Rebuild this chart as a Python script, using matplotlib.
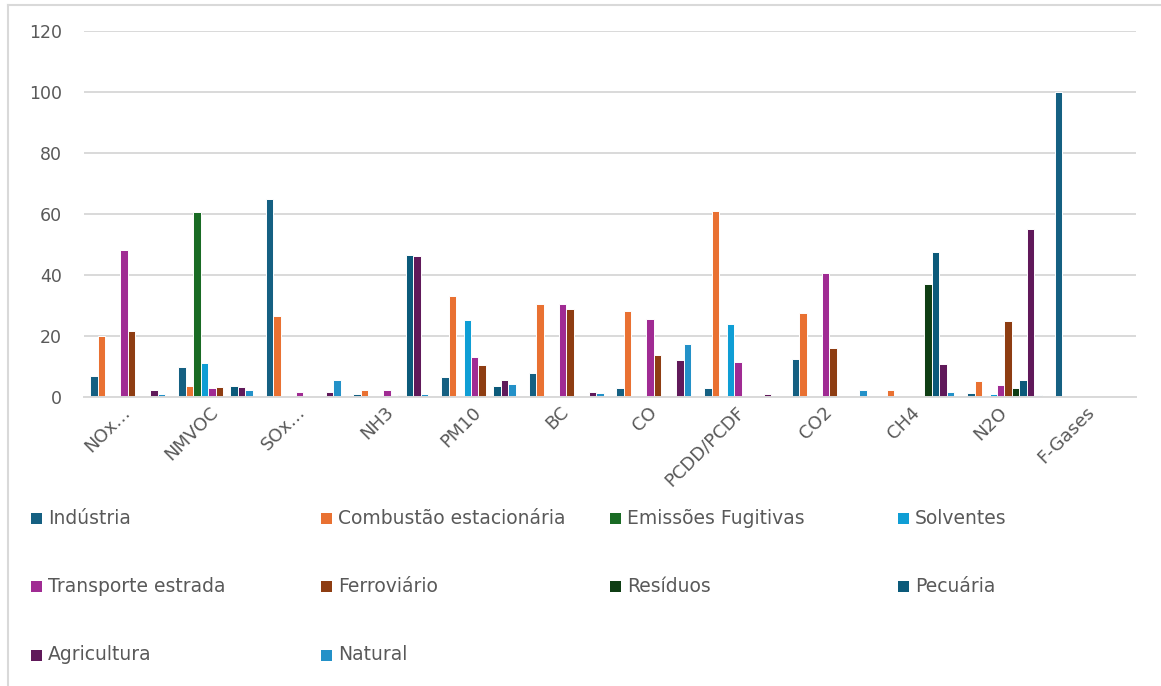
import numpy as np
import matplotlib
matplotlib.use('Agg')
import matplotlib.pyplot as plt
from matplotlib.patches import Rectangle
from matplotlib.lines import Line2D

plt.rcParams['font.family'] = ['DejaVu Sans']

W, H = 1161, 686

# categories (x axis)
categorias = ['NOx…', 'NMVOC', 'SOx…', 'NH3', 'PM10', 'BC', 'CO',
              'PCDD/PCDF', 'CO2', 'CH4', 'N2O', 'F-Gases']

# series values
industria = [7.0, 10.0, 65.0, 1.1, 6.6, 7.8, 3.0, 3.0, 12.6, 0, 1.4, 100.0]
combustao = [20.0, 3.5, 26.7, 2.2, 33.0, 30.4, 28.1, 60.9, 27.7, 2.4, 5.1, 0]
emissoes = [0, 60.8, 0, 0, 0, 0, 0, 0, 0, 0, 0, 0]
solventes = [0, 11.1, 0, 0, 25.1, 0, 0, 24.0, 0, 0, 1.0, 0]
transporte = [48.2, 2.8, 1.5, 2.2, 13.0, 30.4, 25.6, 11.5, 40.8, 0, 3.9, 0]
ferroviario = [21.8, 3.2, 0, 0, 10.4, 29.0, 13.7, 0, 16.2, 0, 24.8, 0]
residuos = [0, 0, 0, 0.6, 0, 0, 0, 0, 0, 37.0, 3.0, 0]
pecuaria = [0, 3.5, 0, 46.7, 3.6, 0, 0, 0, 0, 47.4, 5.5, 0]
agricultura = [2.2, 3.2, 1.8, 46.3, 5.5, 1.8, 12.2, 1.1, 0, 10.7, 55.2, 0]
natural = [1.0, 2.4, 5.6, 1.0, 4.2, 1.4, 17.4, 0, 2.4, 1.8, 0.6, 0]

nomes = ['Indústria', 'Combustão estacionária', 'Emissões Fugitivas', 'Solventes',
         'Transporte estrada', 'Ferroviário', 'Resíduos', 'Pecuária',
         'Agricultura', 'Natural']
series = [industria, combustao, emissoes, solventes, transporte,
          ferroviario, residuos, pecuaria, agricultura, natural]
cores = ['#156082', '#E97132', '#196B24', '#0F9ED5', '#A02B93',
         '#8E3D12', '#0F3E14', '#0B5A7A', '#60195A', '#2391C8']

grey_txt = '#595959'
grid_c = '#d9d9d9'

fig = plt.figure(figsize=(W / 100, H / 100), dpi=100)
ax = fig.add_axes([84 / W, 1 - 397 / H, (1136 - 84) / W, (397 - 31) / H])

x = np.arange(len(categorias))
bw = 0.0855
for i, (vals, cor) in enumerate(zip(series, cores)):
    ax.bar(x + (i - 4.5) * bw, vals, width=bw, color=cor,
           edgecolor='white', linewidth=0.7, zorder=2)

ax.set_xlim(-0.5, len(categorias) - 0.5)
ax.set_ylim(0, 120)
ax.set_yticks(np.arange(0, 121, 20))
ax.yaxis.grid(True, color=grid_c, linewidth=1.4)
ax.set_axisbelow(True)
for s in ['left', 'right', 'top']:
    ax.spines[s].set_visible(False)
ax.spines['bottom'].set_color(grid_c)
ax.spines['bottom'].set_linewidth(1.4)
ax.spines['bottom'].set_zorder(3)

ax.tick_params(axis='y', length=0, pad=16, labelsize=12.5, labelcolor=grey_txt)
ax.tick_params(axis='x', length=0, pad=9, labelsize=13, labelcolor=grey_txt)
ax.set_xticks(x)
ax.set_xticklabels(categorias, rotation=45, ha='right', va='center',
                   rotation_mode='anchor')

# legend, 4 equal columns like Excel
col_x = [31, 321, 610, 898]
row_y = [518, 586, 655]
for k, (nome, cor) in enumerate(zip(nomes, cores)):
    cx = col_x[k % 4]
    cy = row_y[k // 4]
    fig.add_artist(Rectangle((cx / W, 1 - (cy + 5.5) / H), 11 / W, 11 / H,
                             transform=fig.transFigure, facecolor=cor,
                             edgecolor='none'))
    fig.text((cx + 17) / W, 1 - cy / H, nome, fontsize=13.5, color=grey_txt,
             va='center', ha='left')

# chart frame (only top and left are inside the picture)
fig.add_artist(Line2D([8 / W, 1.05], [1 - 5 / H, 1 - 5 / H], color=grid_c,
                      linewidth=1.5, transform=fig.transFigure))
fig.add_artist(Line2D([8 / W, 8 / W], [1 - 5 / H, -0.05], color=grid_c,
                      linewidth=1.5, transform=fig.transFigure))

fig.savefig('out.png', dpi=100)
